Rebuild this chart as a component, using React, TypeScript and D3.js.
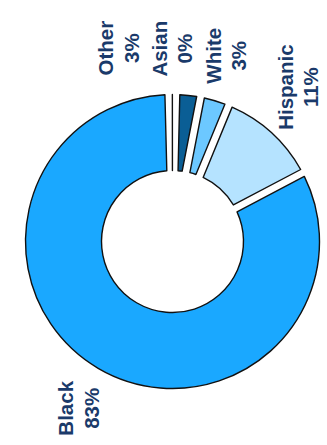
import React from "react";
import * as d3 from "d3";

// ---- data ----
const categories = ["Black", "Other", "Asian", "White", "Hispanic"];
const shares = [84.8, 0, 2.0, 2.5, 10.7];
const percentLabels = ["83%", "3%", "0%", "3%", "11%"];
const sliceColors = ["#1AA8FF", "#FFFFFF", "#0A5E95", "#6CC8FF", "#B5E3FF"];

// ---- layout ----
const W = 327;
const H = 445;
const CX = 172.5;
const CY = 241.5;
const R_OUT = 147;
const R_IN = 71;
const DEG = Math.PI / 180;
const START = 62.2 * DEG;
const PAD = 2.75 * DEG;
const FONT_SIZE = 20.5;
const FONT_WEIGHT = 700;
const LINE_GAP = 25.5;
const LABEL_R = 166;
const LABEL_MIN_GAP = 13.5;
const TEXT_COLOR = "#1A3A6A";
const FONT = '"Liberation Sans", Arial, sans-serif';

function measure(text: string): number {
  const c = document.createElement("canvas").getContext("2d");
  if (!c) return text.length * FONT_SIZE * 0.58;
  c.font = `bold ${FONT_SIZE}px "Liberation Sans"`;
  return c.measureText(text).width;
}

export default function App() {
  const pie = d3
    .pie<number>()
    .sort(null)
    .value((d) => d)
    .startAngle(START)
    .endAngle(START + 2 * Math.PI)
    .padAngle(PAD);
  const arcs = pie(shares);
  const arcGen = d3
    .arc<d3.PieArcDatum<number>>()
    .innerRadius(R_IN)
    .outerRadius(R_OUT);

  const halfW = (LINE_GAP + FONT_SIZE * 0.72) / 2;
  const labels = arcs.map((a, i) => {
    const th = (a.startAngle + a.endAngle) / 2;
    const s = Math.sin(th);
    const c = Math.cos(th);
    const hh = Math.max(measure(categories[i]), measure(percentLabels[i])) / 2;
    const px = CX + LABEL_R * s;
    const py = CY - LABEL_R * c;
    return {
      i,
      x: px + s * halfW,
      y: py - c * hh,
      hw: halfW,
      hh,
    };
  });

  // resolve overlaps by pushing labels horizontally (right to left)
  const order = [...labels].sort((a, b) => b.x - a.x);
  for (let k = 1; k < order.length; k++) {
    const L = order[k];
    for (let j = 0; j < k; j++) {
      const M = order[j];
      const overlapY = L.y + L.hh > M.y - M.hh && L.y - L.hh < M.y + M.hh;
      if (!overlapY) continue;
      const maxX = M.x - M.hw - LABEL_MIN_GAP - L.hw;
      if (L.x > maxX) L.x = maxX;
    }
  }

  return (
    <svg
      width={W}
      height={H}
      style={{ position: "absolute", left: 0, top: 0, background: "#fff" }}
    >
      <g transform={`translate(${CX},${CY})`}>
        {arcs.map((a, i) => (
          <path
            key={categories[i]}
            d={arcGen(a) || ""}
            fill={sliceColors[i]}
            stroke="#111"
            strokeWidth={1.4}
            strokeLinejoin="round"
          />
        ))}
      </g>
      {labels.map((l) => (
        <g
          key={categories[l.i]}
          transform={`translate(${l.x},${l.y}) rotate(-90)`}
          fill={TEXT_COLOR}
          fontFamily={FONT}
          fontSize={FONT_SIZE}
          fontWeight={FONT_WEIGHT}
          textAnchor="middle"
        >
          <text x={0} y={-LINE_GAP / 2} dominantBaseline="central">
            {categories[l.i]}
          </text>
          <text x={0} y={LINE_GAP / 2} dominantBaseline="central">
            {percentLabels[l.i]}
          </text>
        </g>
      ))}
    </svg>
  );
}
